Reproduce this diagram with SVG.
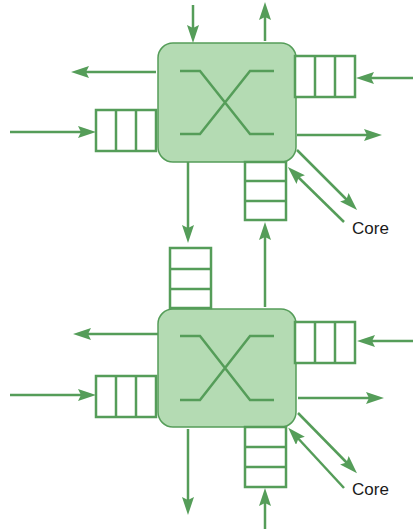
<svg xmlns="http://www.w3.org/2000/svg" width="413" height="531" viewBox="0 0 413 531">
<defs>
<marker id="ah" markerUnits="userSpaceOnUse" markerWidth="20" markerHeight="14" refX="8" refY="6" orient="auto">
<path d="M0,0 L18,6 L0,12 L3,6 Z" fill="#559d59"/>
</marker>
</defs>
<style>
.box{fill:#b4dbb3;stroke:#559d59;stroke-width:1.5}
.x{fill:none;stroke:#559d59;stroke-width:2.5}
.q{fill:#fff;stroke:#559d59;stroke-width:2.5}
.d{stroke:#559d59;stroke-width:2.5}
.c{fill:none;stroke:#559d59;stroke-width:2.5;marker-end:url(#ah)}
.t{font-family:"Liberation Sans",Arial,sans-serif;font-size:17px;fill:#1a1a1a}
</style>
<g id="router1">
<rect class="box" x="158" y="43" width="138" height="119" rx="15"/>
<path class="x" d="M180,71 H200 L250,134 H274 M180,134 H200 L250,71 H274"/>
</g>
<g id="router2">
<rect class="box" x="158" y="309" width="138" height="118" rx="15"/>
<path class="x" d="M180,336 H200 L250,400 H274 M180,400 H200 L250,336 H274"/>
</g>
<g id="q1-right">
<rect class="q" x="295" y="56" width="60" height="41"/>
<line class="d" x1="315" y1="56" x2="315" y2="97"/><line class="d" x1="335" y1="56" x2="335" y2="97"/>
</g>
<g id="q1-left">
<rect class="q" x="96" y="110" width="60" height="41"/>
<line class="d" x1="116" y1="110" x2="116" y2="151"/><line class="d" x1="136" y1="110" x2="136" y2="151"/>
</g>
<g id="q1-bottom">
<rect class="q" x="245" y="162" width="41" height="58"/>
<line class="d" x1="245" y1="181" x2="286" y2="181"/><line class="d" x1="245" y1="201" x2="286" y2="201"/>
</g>
<g id="q-middle">
<rect class="q" x="170" y="248" width="41" height="60"/>
<line class="d" x1="170" y1="269" x2="211" y2="269"/><line class="d" x1="170" y1="289" x2="211" y2="289"/>
</g>
<g id="q2-right">
<rect class="q" x="295" y="322" width="60" height="41"/>
<line class="d" x1="315" y1="322" x2="315" y2="363"/><line class="d" x1="335" y1="322" x2="335" y2="363"/>
</g>
<g id="q2-left">
<rect class="q" x="96" y="376" width="60" height="41"/>
<line class="d" x1="116" y1="376" x2="116" y2="417"/><line class="d" x1="136" y1="376" x2="136" y2="417"/>
</g>
<g id="q2-bottom">
<rect class="q" x="245" y="427" width="41" height="60"/>
<line class="d" x1="245" y1="447" x2="286" y2="447"/><line class="d" x1="245" y1="467" x2="286" y2="467"/>
</g>
<g id="connectors">
<path class="c" d="M193,5 V33"/>
<path class="c" d="M265,41 V12"/>
<path class="c" d="M156,72 H81"/>
<path class="c" d="M413,78 H366"/>
<path class="c" d="M10,132 H86"/>
<path class="c" d="M297,135 H372"/>
<path class="c" d="M188,162 V233"/>
<path class="c" d="M265,307 V232"/>
<path class="c" d="M297,150 L350,203"/>
<path class="c" d="M344,222 L295,174"/>
<path class="c" d="M158,334 H83"/>
<path class="c" d="M413,341 H367"/>
<path class="c" d="M10,395 H86"/>
<path class="c" d="M298,398 H374"/>
<path class="c" d="M188,429 V505"/>
<path class="c" d="M265,529 V498"/>
<path class="c" d="M298,413 L350,466"/>
<path class="c" d="M344,488 L295,435"/>
</g>
<g id="labels">
<text class="t" x="352" y="234">Core</text>
<text class="t" x="352" y="495">Core</text>
</g>
</svg>
